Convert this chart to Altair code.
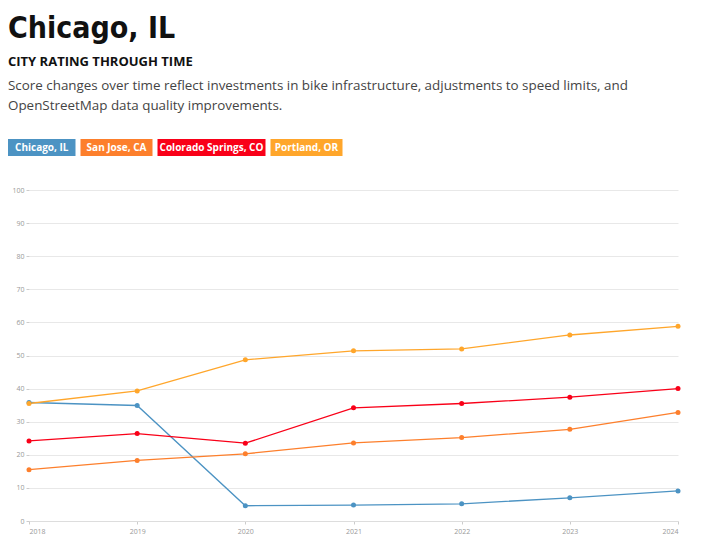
import altair as alt
import pandas as pd

years = [2018, 2019, 2020, 2021, 2022, 2023, 2024]
cities = ["Chicago, IL", "San Jose, CA", "Colorado Springs, CO", "Portland, OR"]
colors = ["#4c93c3", "#fd7f2c", "#f90018", "#ffa62b"]

chicago = [35.8, 34.9, 4.6, 4.8, 5.2, 7.0, 9.1]
san_jose = [15.5, 18.3, 20.3, 23.6, 25.2, 27.7, 32.8]
colorado_springs = [24.2, 26.4, 23.5, 34.2, 35.5, 37.4, 40.0]
portland = [35.5, 39.3, 48.7, 51.4, 52.0, 56.2, 58.8]

title = "Chicago, IL"
subtitle = "CITY RATING THROUGH TIME"
description = [
    "Score changes over time reflect investments in bike infrastructure, adjustments to speed limits, and",
    "OpenStreetMap data quality improvements.",
]
y_ticks = list(range(0, 101, 10))

series = {
    "Chicago, IL": chicago,
    "San Jose, CA": san_jose,
    "Colorado Springs, CO": colorado_springs,
    "Portland, OR": portland,
}
rows = []
for city, vals in series.items():
    for yr, v in zip(years, vals):
        rows.append({"year": yr, "city": city, "value": v})
df = pd.DataFrame(rows)

# badge layout derived from label lengths
left = -21
gap = 5
char_w = 4.5
pad = 18
badges = []
cur = left
for c in cities:
    w = pad + char_w * len(c)
    badges.append({"city": c, "x0": cur, "x1": cur + w, "xm": cur + w / 2})
    cur += w + gap
bdf = pd.DataFrame(badges)

W, H = 649, 331
HH = 178
one = pd.DataFrame({"a": [0]})
color_scale = alt.Scale(domain=cities, range=colors)

t1 = alt.Chart(one).mark_text(
    text=title, align="left", baseline="alphabetic", fontSize=30, fontWeight="bold",
    font="DejaVu Sans Condensed, sans-serif", color="#111"
).encode(x=alt.value(left), y=alt.value(30))
t2 = alt.Chart(one).mark_text(
    text=subtitle, align="left", baseline="alphabetic", fontSize=13, fontWeight="bold",
    font="Open Sans", color="#111"
).encode(x=alt.value(left), y=alt.value(58))
t3 = alt.Chart(one).mark_text(
    text=description, align="left", baseline="alphabetic", fontSize=13.4, lineHeight=20,
    font="Open Sans", color="#444"
).encode(x=alt.value(left), y=alt.value(82))
brect = alt.Chart(bdf).mark_rect().encode(
    x=alt.X("x0:Q", scale=None), x2="x1:Q",
    y=alt.value(131), y2=alt.value(148),
    color=alt.Color("city:N", scale=color_scale, legend=None),
)
btext = alt.Chart(bdf).mark_text(
    align="center", baseline="middle", fontSize=10, fontWeight="bold",
    font="Open Sans", color="white"
).encode(x=alt.X("xm:Q", scale=None), y=alt.value(140), text="city:N")

header = alt.layer(t1, t2, t3, brect, btext).properties(width=W, height=HH)

base = alt.Chart(df).encode(
    x=alt.X("year:Q", title=None,
            scale=alt.Scale(domain=[years[0], years[-1]], nice=False, zero=False),
            axis=alt.Axis(values=years, format="d", grid=False, tickSize=3,
                          labelFontSize=7, labelColor="#999", labelFont="Open Sans",
                          domainColor="#ddd", tickColor="#ccc", labelPadding=3)),
    y=alt.Y("value:Q", title=None,
            scale=alt.Scale(domain=[0, 100], nice=False),
            axis=alt.Axis(values=y_ticks, grid=True, gridColor="#e8e8e8", tickSize=3,
                          labelFontSize=7, labelColor="#999", labelFont="Open Sans",
                          domain=False, tickColor="#ccc", labelPadding=2)),
    color=alt.Color("city:N", scale=color_scale, legend=None),
)
lines = base.mark_line(strokeWidth=1.3)
points = base.mark_circle(size=25, opacity=1)
main = alt.layer(lines, points).properties(width=W, height=H)

chart = alt.vconcat(header, main, spacing=0).configure_view(stroke=None).properties(
    background="white", padding=0
)
chart.save("out.html", embed_options={"renderer": "svg", "actions": False})
